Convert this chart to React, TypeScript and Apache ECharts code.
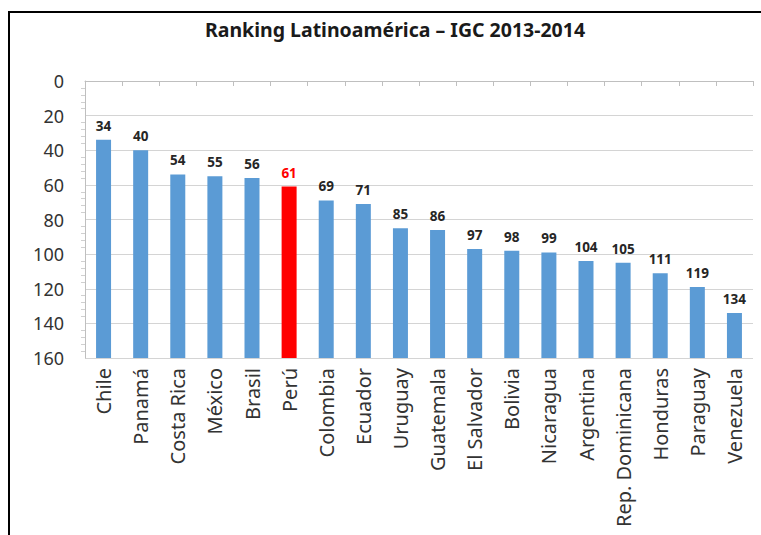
import React, { useEffect, useRef } from "react";
import * as echarts from "echarts";

const countries = [
  "Chile", "Panamá", "Costa Rica", "México", "Brasil", "Perú", "Colombia", "Ecuador",
  "Uruguay", "Guatemala", "El Salvador", "Bolivia", "Nicaragua", "Argentina",
  "Rep. Dominicana", "Honduras", "Paraguay", "Venezuela",
];
const ranks = [34, 40, 54, 55, 56, 61, 69, 71, 85, 86, 97, 98, 99, 104, 105, 111, 119, 134];
const highlighted = "Perú";
const axisMax = 160;
const titleText = "Ranking Latinoamérica – IGC 2013-2014";

const FONT = "Noto Sans";
const BLUE = "#5b9bd5";
const RED = "#ff0000";

export default function App() {
  const ref = useRef<HTMLDivElement>(null);
  useEffect(() => {
    if (!ref.current) return;
    const chart = echarts.init(ref.current, null, { renderer: "svg" });
    const isHi = (i: number) => countries[i] === highlighted;
    chart.setOption({
      animation: false,
      backgroundColor: "#ffffff",
      title: {
        text: titleText,
        left: 390,
        top: 14,
        textAlign: "center",
        textStyle: { fontFamily: FONT, fontSize: 19.5, fontWeight: "bold", color: "#1a1a1a" },
      },
      graphic: [
        { type: "rect", left: 8, top: 11, shape: { width: 2, height: 524 }, style: { fill: "#000" } },
        { type: "rect", left: 8, top: 11, shape: { width: 753, height: 2 }, style: { fill: "#000" } },
      ],
      grid: { left: 85, right: 8, top: 81, bottom: 177, containLabel: false },
      xAxis: {
        type: "category",
        data: countries,
        axisLine: { show: true, lineStyle: { color: "#bfbfbf" } },
        axisTick: { show: true, length: 5, lineStyle: { color: "#bfbfbf" } },
        axisLabel: {
          rotate: 90,
          interval: 0,
          margin: 10,
          fontFamily: FONT,
          fontSize: 20,
          color: "#333333",
        },
      },
      yAxis: {
        type: "value",
        inverse: true,
        min: 0,
        max: axisMax,
        interval: 20,
        axisLine: { show: true, lineStyle: { color: "#bfbfbf" } },
        axisTick: { show: false },
        minorTick: { show: true, splitNumber: 5, length: 4, lineStyle: { color: "#d0d0d0" } },
        splitLine: { show: true, lineStyle: { color: "#d4d4d4", width: 1 } },
        axisLabel: { margin: 21, fontFamily: FONT, fontSize: 18, color: "#333333" },
      },
      series: [
        {
          type: "bar",
          stack: "rank",
          barWidth: 15,
          silent: true,
          itemStyle: { color: "transparent" },
          data: ranks,
        },
        {
          type: "bar",
          stack: "rank",
          barWidth: 15,
          data: ranks.map((r, i) => ({
            value: axisMax - r,
            itemStyle: { color: isHi(i) ? RED : BLUE },
            label: { color: isHi(i) ? RED : "#262626" },
          })),
          label: {
            show: true,
            position: "top",
            distance: 7,
            fontFamily: FONT,
            fontSize: 13.5,
            fontWeight: "bold",
            formatter: (p: any) => String(ranks[p.dataIndex]),
          },
        },
      ],
    });
    return () => chart.dispose();
  }, []);
  return (
    <div
      ref={ref}
      style={{ position: "absolute", left: 0, top: 0, width: 761, height: 535 }}
    />
  );
}
